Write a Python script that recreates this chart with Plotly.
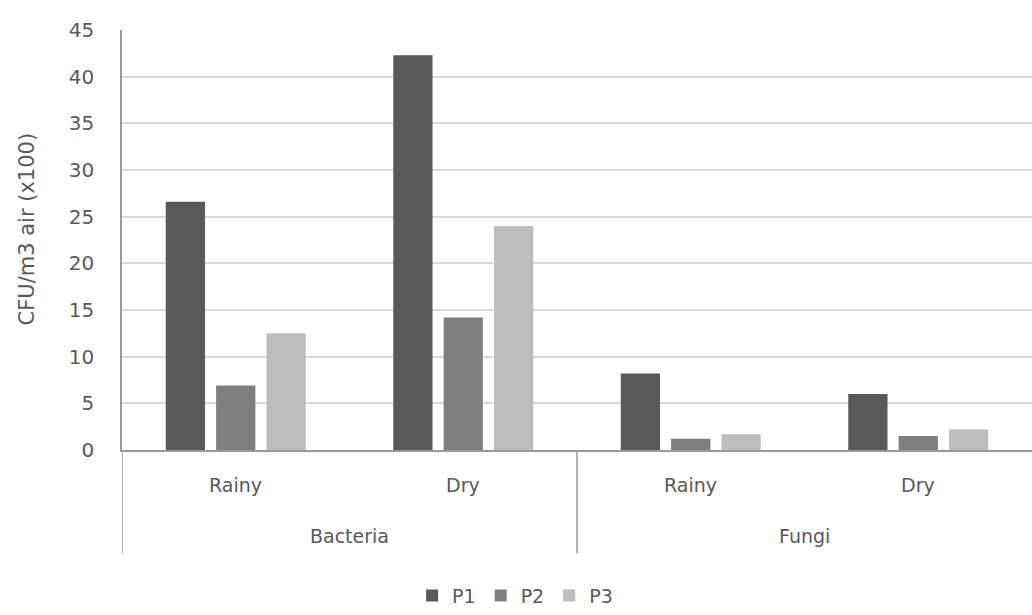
import plotly.graph_objects as go

organisms = ["Bacteria", "Fungi"]
seasons = ["Rainy", "Dry", "Rainy", "Dry"]
categories = ["Bacteria|Rainy", "Bacteria|Dry", "Fungi|Rainy", "Fungi|Dry"]
p1 = [26.6, 42.3, 8.2, 6.0]
p2 = [6.9, 14.2, 1.2, 1.5]
p3 = [12.5, 24.0, 1.7, 2.2]
series = [("P1", p1, "#595959"), ("P2", p2, "#7f7f7f"), ("P3", p3, "#bdbdbd")]
y_ticks = [0, 5, 10, 15, 20, 25, 30, 35, 40, 45]

font_family = "DejaVu Sans, Verdana, sans-serif"
text_color = "#595959"
axis_color = "#9a9a9a"

fig = go.Figure()
for name, vals, color in series:
    fig.add_trace(go.Bar(
        x=categories, y=vals, name=name,
        marker=dict(color=color, line=dict(width=0)),
    ))

annotations = []
# season labels (first level)
for cat, s in zip(categories, seasons):
    annotations.append(dict(x=cat, xref="x", y=-0.083, yref="paper", text=s,
                            showarrow=False, xanchor="center", yanchor="middle",
                            font=dict(size=19, color=text_color)))
# organism labels (second level)
for i, org in enumerate(organisms):
    annotations.append(dict(x=2 * i + 0.5, xref="x", y=-0.205, yref="paper", text=org,
                            showarrow=False, xanchor="center", yanchor="middle",
                            font=dict(size=19, color=text_color)))
# y-axis title
annotations.append(dict(x=-0.104, xref="paper", y=0.526, yref="paper",
                        text="CFU/m3 air (x100)", textangle=-90, showarrow=False,
                        xanchor="center", yanchor="middle",
                        font=dict(size=21, color=text_color)))

shapes = []
for xb in [-0.5, 1.5]:
    shapes.append(dict(type="line", xref="x", yref="paper", x0=xb, x1=xb, y0=0, y1=-0.246,
                       line=dict(color=axis_color, width=1.5)))

fig.update_layout(
    width=1032, height=615,
    margin=dict(l=122, r=0, t=30, b=159),
    paper_bgcolor="white", plot_bgcolor="white",
    barmode="group", bargap=0.336, bargroupgap=0.22,
    font=dict(family=font_family, size=19, color=text_color),
    showlegend=True,
    legend=dict(orientation="h", x=0.432, xanchor="center", y=-0.347, yanchor="middle",
                font=dict(size=19, color=text_color), itemwidth=30, traceorder="normal"),
    xaxis=dict(type="category", showline=True, linecolor=axis_color, linewidth=1.5,
               showticklabels=False, ticks="", automargin=False, range=[-0.5, 3.5]),
    yaxis=dict(range=[0, 45], tickvals=y_ticks, showgrid=True, gridcolor="#d9d9d9",
               gridwidth=1.5, showline=True, linecolor=axis_color, linewidth=1.5,
               zeroline=False, ticks="", ticklabelstandoff=22, automargin=False,
               tickfont=dict(size=20, color=text_color)),
    annotations=annotations,
    shapes=shapes,
)

fig.write_html("out.html", config={"displayModeBar": False},
               post_script="document.body.style.margin='0';document.body.style.overflow='hidden';")
